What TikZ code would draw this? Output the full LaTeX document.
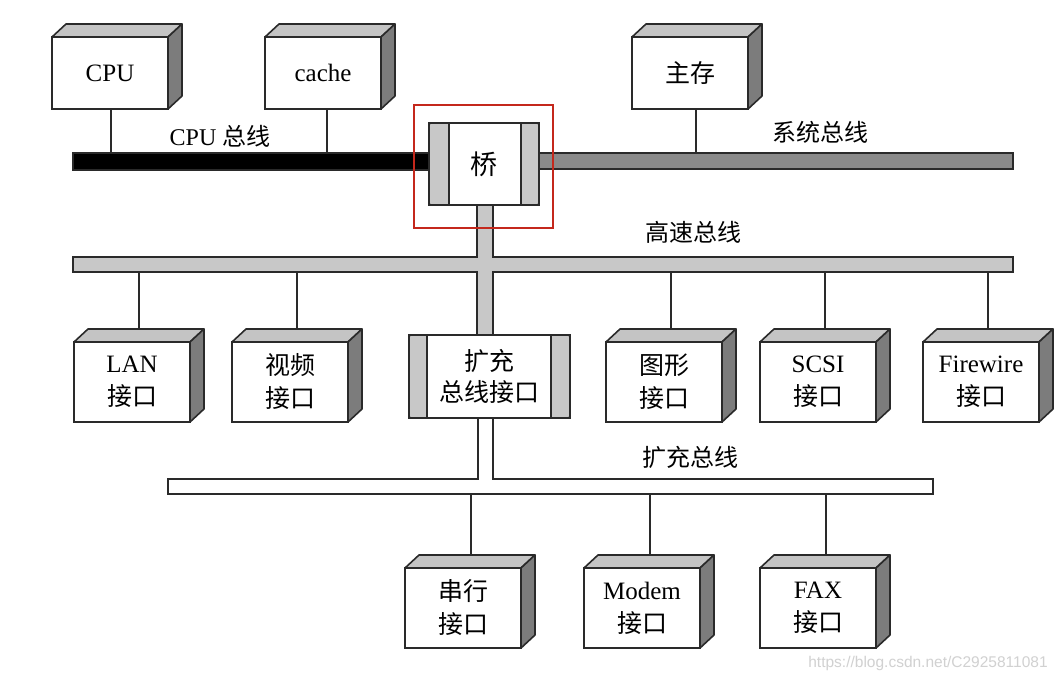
\documentclass[tikz,border=0pt]{standalone}
\usepackage{fontspec}
\setmainfont{Liberation Serif}
\newfontfamily\cjkf{Noto Sans CJK SC}
\newfontfamily\wmf{Liberation Sans}
\newcommand\zhtxt[1]{{\cjkf #1}}
\definecolor{lineC}{HTML}{2A2A2A}
\definecolor{topC}{HTML}{C4C4C4}
\definecolor{sideC}{HTML}{7C7C7C}
\definecolor{sysC}{HTML}{8A8A8A}
\definecolor{hsC}{HTML}{C8C8C8}
\definecolor{redC}{HTML}{C4281C}
\newcommand\devdepth[1]{%
  \filldraw[fill=topC, draw=lineC, line width=1.6pt, line join=round]
    (#1.north west) -- ++(14,-13) -- ([shift={(14,-13)}]#1.north east) -- (#1.north east) -- cycle;
  \filldraw[fill=sideC, draw=lineC, line width=1.6pt, line join=round]
    (#1.north east) -- ++(14,-13) -- ([shift={(14,-13)}]#1.south east) -- (#1.south east) -- cycle;}
\begin{document}
\begin{tikzpicture}[x=1pt,y=-1pt,
  dev/.style={draw=lineC, line width=1.6pt, fill=white, minimum width=116pt,
    minimum height=80pt, inner sep=0pt, outer sep=0pt, align=center,
    font=\fontsize{25}{33}\selectfont},
  topdev/.style={dev, minimum height=72pt},
  busbar/.style={draw=lineC, line width=1.6pt, inner sep=0pt, outer sep=0pt},
  ln/.style={draw=lineC, line width=1.6pt},
  lbl/.style={inner sep=0pt, font=\fontsize{24}{28}\selectfont},
  barbox/.style={draw=lineC, line width=1.6pt, fill=white, rounded corners=2pt, inner sep=0pt, outer sep=0pt, align=center,
    font=\fontsize{25}{31}\selectfont}
]
\fill[white] (0,0) rectangle (1060,683);
\useasboundingbox (0,0) rectangle (1060,683);

% ---- top row devices
\node[topdev] (cpu) at (110,73) {CPU};
\node[topdev] (cache) at (323,73) {cache};
\node[topdev] (mem) at (690,73) {\zhtxt{主存}};
\devdepth{cpu}\devdepth{cache}\devdepth{mem}

% ---- CPU bus and system bus
\node[busbar, fill=black, minimum width=357pt, minimum height=17pt] (cpubus) at (251.5,161.5) {};
\node[busbar, fill=sysC, minimum width=474pt, minimum height=16pt] (sysbus) at (776,161) {};
\coordinate (cpuc) at ([xshift=1pt]cpu.south);
\draw[ln] (cpuc) -- (cpuc |- cpubus.north);
\coordinate (cachec) at ([xshift=4pt]cache.south);
\draw[ln] (cachec) -- (cachec |- cpubus.north);
\coordinate (memc) at ([xshift=6pt]mem.south);
\draw[ln] (memc) -- (memc |- sysbus.north);
\node[lbl] (lcpu) at (220,136) {CPU \zhtxt{总线}};
\node[lbl] (lsys) at (820,132) {\zhtxt{系统总线}};

% ---- high speed bus with stem
\coordinate (s1t) at (477,205);
\coordinate (s2t) at (493,205);
\coordinate (s1b) at (477,337);
\coordinate (s2b) at (493,337);
\fill[hsC] (s1t) rectangle (s2b);
\node[busbar, fill=hsC, minimum width=940pt, minimum height=15pt] (hsbus) at (543,264.5) {};
\fill[hsC] (477.8,255.5) rectangle (492.2,273.5);
\draw[ln] (s1t) -- (s1t |- hsbus.north) (s2t) -- (s2t |- hsbus.north);
\draw[ln] (s1t |- hsbus.south) -- (s1b) (s2t |- hsbus.south) -- (s2b);
\node[lbl] (lhs) at (693,232) {\zhtxt{高速总线}};

% ---- bridge
\node[barbox, minimum width=110pt, minimum height=82pt, font=\fontsize{27}{31}\selectfont] (bridge) at (484,164) {\zhtxt{桥}};
\filldraw[fill=hsC, draw=lineC, line width=1.6pt] (bridge.north west) rectangle ([xshift=20pt]bridge.south west);
\filldraw[fill=hsC, draw=lineC, line width=1.6pt] ([xshift=-18pt]bridge.north east) rectangle (bridge.south east);
\draw[draw=lineC, line width=1.6pt, rounded corners=2pt] (bridge.north west) rectangle (bridge.south east);
\draw[redC, line width=2.2pt] (414,105) rectangle (553,228);

% ---- second row devices
\node[dev] (lan) at (132,382) {LAN\\\zhtxt{接口}};
\node[dev] (video) at (290,382) {\zhtxt{视频}\\\zhtxt{接口}};
\node[dev] (gfx) at (664,382) {\zhtxt{图形}\\\zhtxt{接口}};
\node[dev] (scsi) at (818,382) {SCSI\\\zhtxt{接口}};
\node[dev] (fw) at (981,382) {Firewire\\\zhtxt{接口}};
\foreach \n in {lan,video,gfx,scsi,fw}{
  \devdepth{\n}
  \coordinate (\n c) at ([shift={(7,-13)}]\n.north);
  \draw[ln] (\n c |- hsbus.south) -- (\n c);
}

% ---- expansion bus interface
\node[barbox, minimum width=161pt, minimum height=83pt] (expif) at (489.5,376.5) {\zhtxt{扩充}\\\zhtxt{总线接口}};
\filldraw[fill=hsC, draw=lineC, line width=1.6pt] (expif.north west) rectangle ([xshift=18pt]expif.south west);
\filldraw[fill=hsC, draw=lineC, line width=1.6pt] ([xshift=-19pt]expif.north east) rectangle (expif.south east);
\draw[draw=lineC, line width=1.6pt, rounded corners=2pt] (expif.north west) rectangle (expif.south east);

% ---- expansion bus
\node[busbar, fill=white, minimum width=765pt, minimum height=15pt] (expbus) at (550.5,486.5) {};
\coordinate (e1) at (478,418);
\coordinate (e2) at (493,418);
\fill[white] (478.8,477.5) rectangle (492.2,481);
\draw[ln] (e1 |- expif.south) -- (e1 |- expbus.north) (e2 |- expif.south) -- (e2 |- expbus.north);
\node[lbl] (lexp) at (690,457) {\zhtxt{扩充总线}};

% ---- third row devices
\node[dev] (serial) at (463,608) {\zhtxt{串行}\\\zhtxt{接口}};
\node[dev] (modem) at (642,608) {Modem\\\zhtxt{接口}};
\node[dev] (fax) at (818,608) {FAX\\\zhtxt{接口}};
\foreach \n in {serial,modem,fax}{
  \devdepth{\n}
  \coordinate (\n c) at ([shift={(8,-13)}]\n.north);
  \draw[ln] (\n c |- expbus.south) -- (\n c);
}

% ---- watermark
\node[inner sep=0pt, text=black!18, font=\wmf\fontsize{15.5}{18}\selectfont] (wm) at (928,663) {https://blog.csdn.net/C2925811081};
\end{tikzpicture}
\end{document}
